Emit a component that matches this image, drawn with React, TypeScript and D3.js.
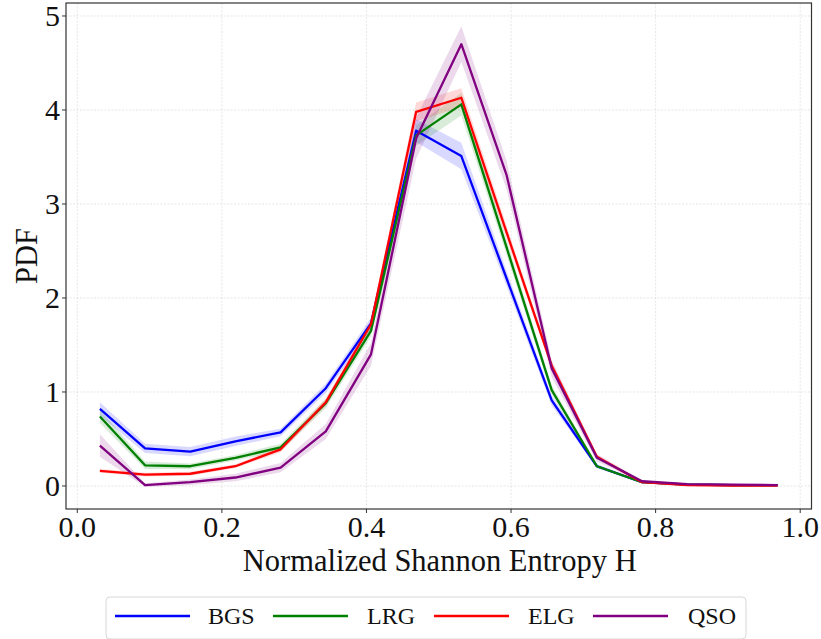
import React from "react";
import * as d3 from "d3";

const xCenters = [0.03125, 0.09375, 0.15625, 0.21875, 0.28125, 0.34375, 0.40625, 0.46875, 0.53125, 0.59375, 0.65625, 0.71875, 0.78125, 0.84375, 0.90625, 0.96875];

const bgs = [0.82, 0.40, 0.365, 0.475, 0.57, 1.04, 1.73, 3.78, 3.51, 2.21, 0.91, 0.21, 0.04, 0.015, 0.01, 0.01];
const bgsErr = [0.07, 0.05, 0.05, 0.05, 0.04, 0.05, 0.06, 0.12, 0.14, 0.08, 0.05, 0.02, 0.01, 0.005, 0.005, 0.005];
const lrg = [0.74, 0.22, 0.21, 0.30, 0.41, 0.88, 1.65, 3.73, 4.06, 2.54, 1.02, 0.21, 0.04, 0.015, 0.01, 0.01];
const lrgErr = [0.07, 0.04, 0.03, 0.03, 0.04, 0.05, 0.06, 0.11, 0.12, 0.08, 0.05, 0.02, 0.01, 0.005, 0.005, 0.005];
const elg = [0.16, 0.12, 0.13, 0.21, 0.39, 0.89, 1.72, 3.98, 4.13, 2.70, 1.28, 0.31, 0.04, 0.01, 0.005, 0.005];
const elgErr = [0.02, 0.02, 0.02, 0.02, 0.03, 0.04, 0.05, 0.10, 0.10, 0.07, 0.04, 0.02, 0.01, 0.005, 0.005, 0.005];
const qso = [0.43, 0.01, 0.04, 0.09, 0.195, 0.58, 1.4, 3.7, 4.70, 3.31, 1.25, 0.30, 0.05, 0.02, 0.015, 0.01];
const qsoErr = [0.12, 0.02, 0.03, 0.04, 0.05, 0.08, 0.12, 0.22, 0.19, 0.15, 0.09, 0.04, 0.01, 0.005, 0.005, 0.005];

const seriesNames = ["BGS", "LRG", "ELG", "QSO"];
const seriesColors = ["#0000ff", "#008000", "#ff0000", "#800080"];
const seriesValues = [bgs, lrg, elg, qso];
const seriesErrs = [bgsErr, lrgErr, elgErr, qsoErr];

const xTicks = [0, 0.2, 0.4, 0.6, 0.8, 1.0];
const yTicks = [0, 1, 2, 3, 4, 5];

const W = 821, H = 639;
const left = 66, right = 811.5, top = 3, bottom = 509;
const FONT = "'Liberation Serif', 'Times New Roman', serif";

export default function App() {
  const x = d3.scaleLinear().domain([-0.015625, 1.015625]).range([left, right]);
  const y = d3.scaleLinear().domain([-0.245, 5.138]).range([bottom, top]);

  const line = d3.line<number>().x((_, i) => x(xCenters[i])).y((d) => y(d));

  const legendItems = [
    { lx: 115, tx: 208 },
    { lx: 273, tx: 367 },
    { lx: 434, tx: 528 },
    { lx: 593, tx: 688 },
  ];

  return (
    <svg width={W} height={H} style={{ position: "absolute", left: 0, top: 0, background: "#fff" }}>
      <defs>
        <clipPath id="plotclip">
          <rect x={left} y={top} width={right - left} height={bottom - top} />
        </clipPath>
      </defs>
      <rect x={0} y={0} width={W} height={H} fill="#fff" />
      {/* grid */}
      {xTicks.map((t) => (
        <line key={"gx" + t} x1={x(t)} x2={x(t)} y1={top} y2={bottom} stroke="#dcdcdc" strokeWidth={0.7} strokeDasharray="2,1.5" />
      ))}
      {yTicks.map((t) => (
        <line key={"gy" + t} x1={left} x2={right} y1={y(t)} y2={y(t)} stroke="#dcdcdc" strokeWidth={0.7} strokeDasharray="2,1.5" />
      ))}
      <g clipPath="url(#plotclip)">
        {seriesValues.map((vals, s) => {
          const errs = seriesErrs[s];
          const area = d3
            .area<number>()
            .x((_, i) => x(xCenters[i]))
            .y0((d, i) => y(d - errs[i]))
            .y1((d, i) => y(d + errs[i]));
          return <path key={"a" + s} d={area(vals) || ""} fill={seriesColors[s]} fillOpacity={0.15} stroke="none" />;
        })}
        {seriesValues.map((vals, s) => (
          <path key={"l" + s} d={line(vals) || ""} fill="none" stroke={seriesColors[s]} strokeWidth={2.3} strokeLinejoin="round" />
        ))}
      </g>
      {/* spines */}
      <rect x={left} y={top} width={right - left} height={bottom - top} fill="none" stroke="#333" strokeWidth={1.2} />
      {/* ticks */}
      {xTicks.map((t) => (
        <g key={"xt" + t}>
          <line x1={x(t)} x2={x(t)} y1={bottom} y2={bottom + 4} stroke="#333" strokeWidth={1} />
          <text x={x(t)} y={bottom + 28} textAnchor="middle" fontFamily={FONT} fontSize={30} fill="#111">
            {t.toFixed(1)}
          </text>
        </g>
      ))}
      {yTicks.map((t) => (
        <g key={"yt" + t}>
          <line x1={left - 4} x2={left} y1={y(t)} y2={y(t)} stroke="#333" strokeWidth={1} />
          <text x={left - 6} y={y(t) + 10} textAnchor="end" fontFamily={FONT} fontSize={30} fill="#111">
            {t}
          </text>
        </g>
      ))}
      <text x={(left + right) / 2 + 1} y={571} textAnchor="middle" fontFamily={FONT} fontSize={30.5} fill="#111">
        Normalized Shannon Entropy H
      </text>
      <text transform={`translate(37, ${(top + bottom) / 2}) rotate(-90)`} textAnchor="middle" fontFamily={FONT} fontSize={30.5} fill="#111">
        PDF
      </text>
      {/* legend */}
      <rect x={106} y={597} width={640} height={42} rx={4} fill="#fff" stroke="#d8d8d8" strokeWidth={1} />
      {seriesNames.map((n, s) => (
        <g key={"lg" + n}>
          <line x1={legendItems[s].lx} x2={legendItems[s].lx + 75} y1={616} y2={616} stroke={seriesColors[s]} strokeWidth={2.3} />
          <text x={legendItems[s].tx} y={624} fontFamily={FONT} fontSize={24} fill="#111">
            {n}
          </text>
        </g>
      ))}
    </svg>
  );
}
